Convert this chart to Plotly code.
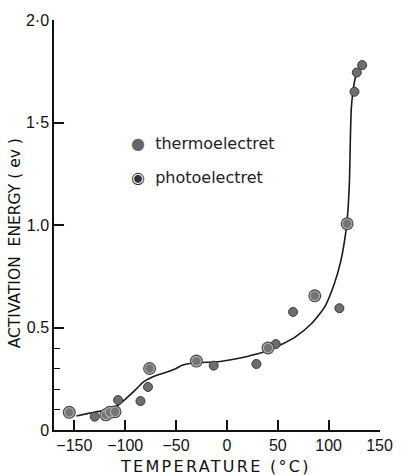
import plotly.graph_objects as go

# thermoelectret points (temperature °C, activation energy eV)
thermo_T = [-130, -107, -85, -77.6, -13, 29, 48, 65, 110.6, 125.4, 127.7, 133]
thermo_E = [0.065, 0.146, 0.141, 0.21, 0.314, 0.322, 0.419, 0.576, 0.594, 1.65, 1.744, 1.78]

# photoelectret points
photo_T = [-155, -119, -115, -110, -76, -30, 40.4, 86.4, 118.2]
photo_E = [0.086, 0.074, 0.086, 0.089, 0.30, 0.336, 0.40, 0.655, 1.006]

# fitted curve
curve_T = [-148, -136, -120, -107, -101, -91, -82, -69, -59, -50, -44, -28, -12, 4, 20, 36,
           48, 52, 67, 83, 96, 105.5, 112, 116.6, 118.8, 120.5, 121.3, 122.3, 123.9, 126.1, 129.2]
curve_E = [0.068, 0.081, 0.097, 0.121, 0.146, 0.191, 0.235, 0.267, 0.283, 0.300, 0.316, 0.329,
           0.332, 0.343, 0.359, 0.380, 0.404, 0.413, 0.453, 0.518, 0.599, 0.712, 0.825, 0.955,
           1.06, 1.22, 1.408, 1.569, 1.65, 1.715, 1.755]

x_ticks = [-150, -100, -50, 0, 50, 100, 150]
x_labels = ["\u2212150", "\u2212100", "\u221250", "0", "50", "100", "150"]
y_ticks = [0, 0.5, 1.0, 1.5, 2.0]
y_labels = ["0", "0.5", "1.0", "1\u00b75", "2\u00b70"]
y_minor = [0.1, 0.2, 0.3, 0.4]

fig = go.Figure()
fig.add_trace(go.Scatter(x=curve_T, y=curve_E, mode="lines",
                         line=dict(color="#1a1a1a", width=1.6, shape="spline", smoothing=0.6),
                         showlegend=False, hoverinfo="skip"))
fig.add_trace(go.Scatter(x=thermo_T, y=thermo_E, mode="markers",
                         marker=dict(size=9, color="#6e6e6e", line=dict(color="#3a3a3a", width=1)),
                         showlegend=False))
fig.add_trace(go.Scatter(x=photo_T, y=photo_E, mode="markers",
                         marker=dict(size=13, color="#4a4a4a", line=dict(width=0)),
                         showlegend=False))
fig.add_trace(go.Scatter(x=photo_T, y=photo_E, mode="markers",
                         marker=dict(size=9.5, color="#747474", line=dict(color="#b0b0b0", width=1.2)),
                         showlegend=False))

tick_font = dict(family="Liberation Sans", size=16, color="#111")
fig.update_layout(
    width=405, height=475,
    margin=dict(l=54, r=15, t=17, b=45),
    paper_bgcolor="white", plot_bgcolor="white",
    showlegend=False,
    xaxis=dict(range=[-170, 150.5], showgrid=False, zeroline=False,
               showline=True, linecolor="#111", linewidth=1.5,
               ticks="inside", ticklen=10, tickwidth=1.5, tickcolor="#111",
               tickmode="array", tickvals=x_ticks, ticktext=x_labels,
               tickfont=tick_font),
    yaxis=dict(range=[0, 2.0], showgrid=False, zeroline=False,
               showline=True, linecolor="#111", linewidth=1.5,
               ticks="inside", ticklen=10, tickwidth=1.5, tickcolor="#111",
               tickmode="array", tickvals=y_ticks, ticktext=y_labels,
               tickfont=tick_font,
               minor=dict(tickmode="array", tickvals=y_minor, ticks="inside",
                          ticklen=6, tickwidth=1.2, tickcolor="#111")),
)

title_font = dict(family="DejaVu Sans", size=16, color="#111")
fig.add_annotation(xref="paper", yref="paper", x=0.494, y=-0.088, yanchor="middle",
                   text='<span style="letter-spacing:2.3px">TEMPERATURE (°C)</span>',
                   showarrow=False, font=title_font)
fig.add_annotation(xref="paper", yref="paper", x=-0.117, y=0.455, xanchor="center",
                   text='ACTIVATION  ENERGY ( ev )',
                   textangle=-90, showarrow=False,
                   font=dict(family="DejaVu Sans", size=15.5, color="#111"))

legend_font = dict(family="DejaVu Sans", size=16, color="#222")
fig.add_annotation(xref="paper", yref="paper", x=0.23, y=0.70, xanchor="left", yanchor="middle",
                   text='<span style="color:#666">\u25cf</span>  thermoelectret',
                   showarrow=False, font=legend_font)
fig.add_annotation(xref="paper", yref="paper", x=0.23, y=0.617, xanchor="left", yanchor="middle",
                   text='<span style="color:#333">\u25c9</span>  photoelectret',
                   showarrow=False, font=legend_font)

fig.write_html("out.html")
